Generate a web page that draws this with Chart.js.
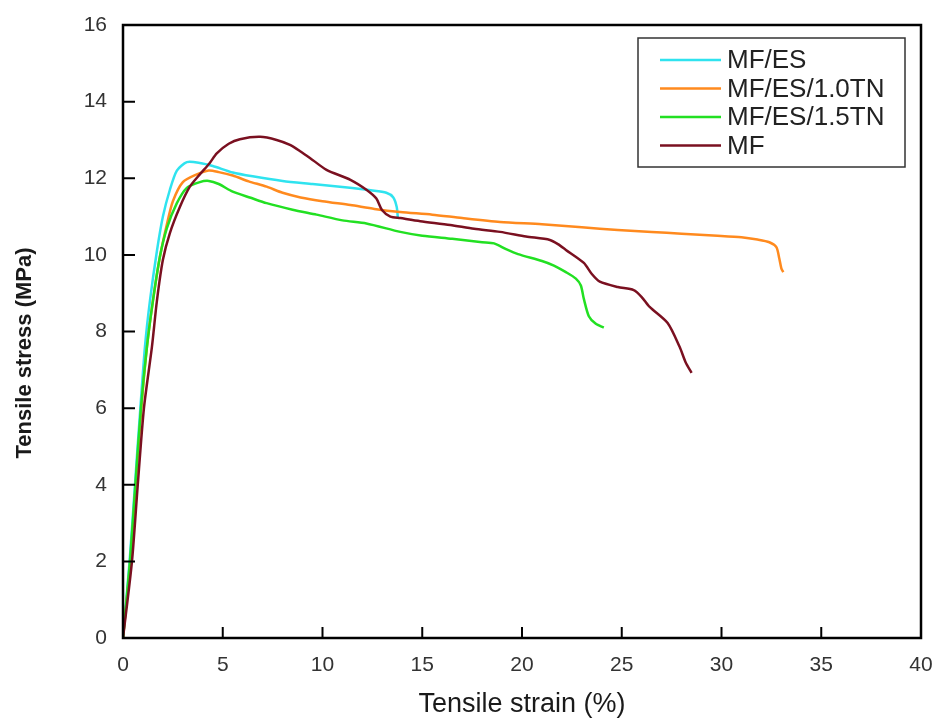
<!DOCTYPE html>
<html>
<head>
<meta charset="utf-8">
<script src="https://cdn.jsdelivr.net/npm/chart.js@4.4.1/dist/chart.umd.min.js"></script>
<style>
  html, body { margin: 0; padding: 0; background: #fff; }
  #wrap { width: 938px; height: 720px; }
</style>
</head>
<body>
<div id="wrap"><canvas id="stress-strain-chart" width="938" height="720"></canvas></div>
<script>
// tensile strain (%) / tensile stress (MPa)
const strainES = [0, 0.33, 0.6, 0.87, 1.1, 1.35, 1.7, 2.0, 2.35, 2.7, 3.2, 3.85, 4.5, 5.5, 6.5, 8.0, 9.5, 11.0, 12.5, 13.2, 13.55, 13.72, 13.78];
const stressES = [0, 2, 4, 6, 7.6, 8.8, 10.1, 11.0, 11.7, 12.2, 12.42, 12.4, 12.32, 12.15, 12.05, 11.93, 11.85, 11.77, 11.68, 11.62, 11.5, 11.25, 10.95];

const strainTN10 = [0, 0.37, 0.64, 0.92, 1.2, 1.5, 1.85, 2.2, 2.5, 3.0, 3.7, 4.3, 4.8, 5.5, 6.3, 7.2, 8.0, 8.9, 10.0, 11.4, 12.6, 13.9, 15.5, 17.0, 18.9, 21.0, 23.0, 24.8, 26.5, 28.0, 29.8, 31.0, 31.8, 32.4, 32.75, 32.9, 33.0, 33.1];
const stressTN10 = [0, 2, 4, 6, 7.6, 8.8, 9.95, 10.8, 11.4, 11.9, 12.1, 12.2, 12.16, 12.07, 11.92, 11.78, 11.62, 11.5, 11.4, 11.3, 11.2, 11.12, 11.05, 10.96, 10.86, 10.8, 10.72, 10.65, 10.6, 10.55, 10.5, 10.46, 10.4, 10.33, 10.2, 9.9, 9.65, 9.55];

const strainTN15 = [0, 0.35, 0.62, 0.9, 1.2, 1.5, 1.85, 2.2, 2.7, 3.2, 3.85, 4.3, 4.8, 5.5, 6.4, 7.2, 8.5, 9.7, 11.0, 12.2, 13.9, 15.0, 16.5, 18.0, 18.6, 19.2, 19.8, 21.0, 21.6, 22.2, 22.7, 22.95, 23.1, 23.35, 23.7, 24.1];
const stressTN15 = [0, 2, 4, 6, 7.6, 8.8, 9.95, 10.7, 11.35, 11.75, 11.9, 11.93, 11.85, 11.65, 11.49, 11.35, 11.18, 11.05, 10.9, 10.82, 10.6, 10.5, 10.42, 10.33, 10.3, 10.15, 10.02, 9.84, 9.72, 9.55, 9.38, 9.2, 8.85, 8.4, 8.2, 8.1];

const strainMF = [0, 0.45, 0.74, 1.05, 1.45, 1.7, 2.0, 2.35, 2.85, 3.35, 3.85, 4.35, 4.7, 5.3, 5.86, 6.87, 7.7, 8.37, 8.9, 9.37, 10.2, 11.4, 12.2, 12.7, 12.98, 13.4, 13.9, 14.9, 16.4, 17.6, 18.9, 20.2, 21.4, 21.8, 22.2, 23.1, 23.5, 23.9, 24.8, 25.6, 26.0, 26.4, 27.3, 27.9, 28.2, 28.5];
const stressMF = [0, 2, 4, 6, 7.6, 8.8, 9.87, 10.57, 11.25, 11.78, 12.1, 12.4, 12.65, 12.9, 13.02, 13.08, 13.0, 12.87, 12.7, 12.53, 12.22, 11.96, 11.7, 11.47, 11.17, 11.0, 10.96, 10.88, 10.78, 10.68, 10.6, 10.48, 10.39, 10.28, 10.13, 9.79, 9.5, 9.3, 9.16, 9.08, 8.9, 8.64, 8.22, 7.6, 7.2, 6.92];

const seriesNames = ['MF/ES', 'MF/ES/1.0TN', 'MF/ES/1.5TN', 'MF'];
const seriesColors = ['#2fe3ef', '#ff8a1e', '#22e022', '#7a1020'];
const strainTicks = [0, 5, 10, 15, 20, 25, 30, 35, 40];
const stressTicks = [0, 2, 4, 6, 8, 10, 12, 14, 16];

const allStrain = [strainES, strainTN10, strainTN15, strainMF];
const allStress = [stressES, stressTN10, stressTN15, stressMF];

function toPoints(xs, ys) {
  return xs.map((x, i) => ({ x: x, y: ys[i] }));
}

const FONT = '"Liberation Sans", Arial, sans-serif';

// frame, inward ticks, legend box and axis titles
const decorPlugin = {
  id: 'decor',
  afterDatasetsDraw(chart) {
    const { ctx, chartArea: a, scales } = chart;
    ctx.save();
    ctx.strokeStyle = '#000';
    ctx.lineWidth = 2.5;
    ctx.strokeRect(a.left, a.top, a.right - a.left, a.bottom - a.top);

    ctx.lineWidth = 2;
    ctx.beginPath();
    strainTicks.forEach(v => {
      const px = scales.x.getPixelForValue(v);
      ctx.moveTo(px, a.bottom);
      ctx.lineTo(px, a.bottom - 11);
    });
    stressTicks.forEach(v => {
      const py = scales.y.getPixelForValue(v);
      ctx.moveTo(a.left, py);
      ctx.lineTo(a.left + 12, py);
    });
    ctx.stroke();

    // legend
    ctx.lineWidth = 1.5;
    ctx.strokeStyle = '#333';
    ctx.strokeRect(638, 38, 267, 129);
    ctx.font = '26px ' + FONT;
    ctx.textBaseline = 'middle';
    ctx.fillStyle = '#222';
    chart.data.datasets.forEach((ds, i) => {
      const yy = 60 + i * 28.5;
      ctx.strokeStyle = ds.borderColor;
      ctx.lineWidth = 2.5;
      ctx.beginPath();
      ctx.moveTo(660, yy);
      ctx.lineTo(721, yy);
      ctx.stroke();
      ctx.fillText(ds.label, 727, yy + 1);
    });

    // axis titles
    ctx.fillStyle = '#1a1a1a';
    ctx.textAlign = 'center';
    ctx.font = '27px ' + FONT;
    ctx.fillText('Tensile strain (%)', (a.left + a.right) / 2, 705);
    ctx.save();
    ctx.translate(25, 353);
    ctx.rotate(-Math.PI / 2);
    ctx.font = 'bold 22px ' + FONT;
    ctx.fillText('Tensile stress (MPa)', 0, 0);
    ctx.restore();
    ctx.restore();
  }
};

const ctx = document.getElementById('stress-strain-chart').getContext('2d');
const stressChart = new Chart(ctx, {
  type: 'scatter',
  data: {
    datasets: seriesNames.map((name, i) => ({
      label: name,
      data: toPoints(allStrain[i], allStress[i]),
      showLine: true,
      borderColor: seriesColors[i],
      backgroundColor: seriesColors[i],
      borderWidth: 2.5,
      pointRadius: 0,
      tension: 0.25,
      order: 4 - i
    }))
  },
  options: {
    responsive: false,
    animation: false,
    events: [],
    layout: { padding: { top: 25, right: 17, left: 0, bottom: 0 } },
    plugins: {
      legend: { display: false },
      tooltip: { enabled: false }
    },
    scales: {
      x: {
        type: 'linear',
        min: 0,
        max: 40,
        afterBuildTicks: s => { s.ticks = strainTicks.map(v => ({ value: v })); },
        afterFit: s => { s.height = 82; s.paddingLeft = 0; s.paddingRight = 0; },
        grid: { display: false },
        border: { display: false },
        ticks: { color: '#333', font: { family: FONT, size: 21 }, padding: 7, maxRotation: 0 }
      },
      y: {
        type: 'linear',
        min: 0,
        max: 16,
        afterBuildTicks: s => { s.ticks = stressTicks.map(v => ({ value: v })); },
        afterFit: s => { s.width = 123; s.paddingTop = 0; s.paddingBottom = 0; },
        grid: { display: false },
        border: { display: false },
        ticks: { color: '#333', font: { family: FONT, size: 21 }, padding: 8 }
      }
    }
  },
  plugins: [decorPlugin]
});
</script>
</body>
</html>
